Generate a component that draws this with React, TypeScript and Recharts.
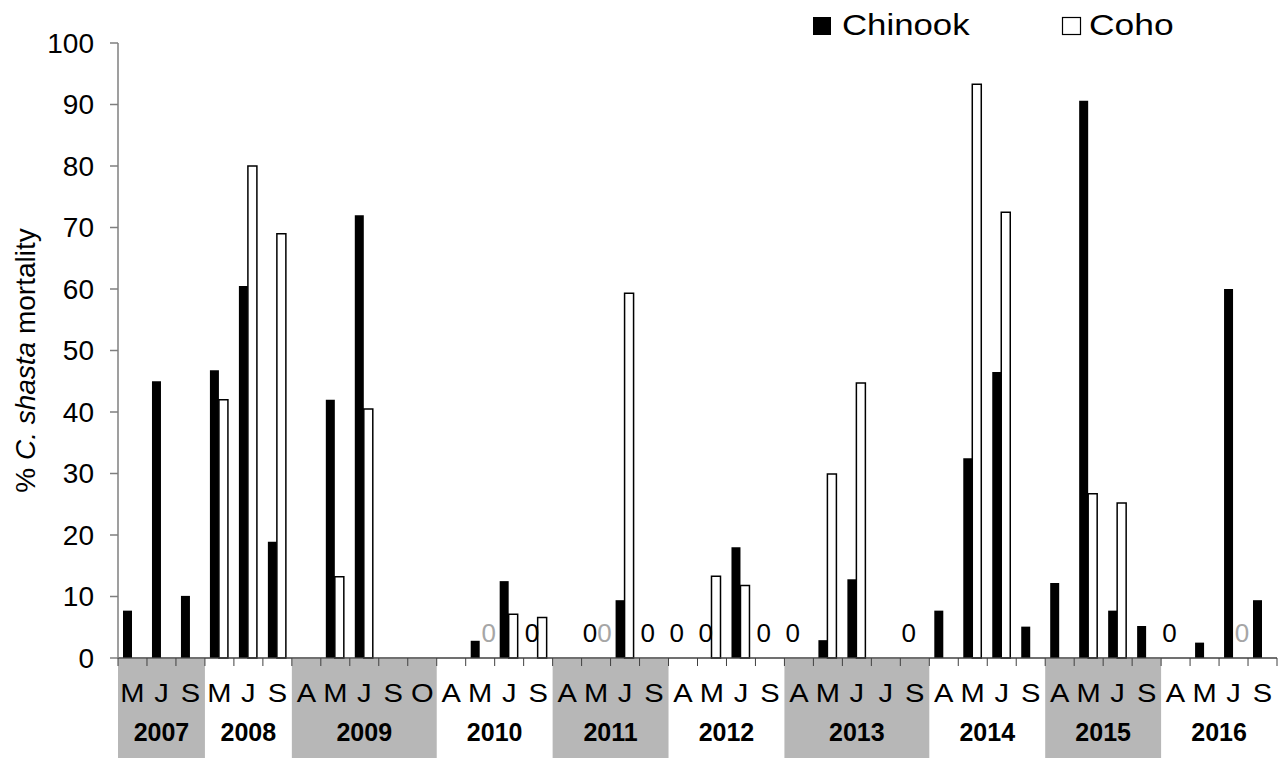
import { ComposedChart, Bar, Scatter, XAxis, YAxis } from 'recharts';

const months = ['M', 'J', 'S', 'M', 'J', 'S', 'A', 'M', 'J', 'S', 'O', 'A', 'M', 'J', 'S', 'A', 'M', 'J', 'S', 'A', 'M', 'J', 'S', 'A', 'M', 'J', 'J', 'S', 'A', 'M', 'J', 'S', 'A', 'M', 'J', 'S', 'A', 'M', 'J', 'S'];
const yearLabels = ['2007', '2008', '2009', '2010', '2011', '2012', '2013', '2014', '2015', '2016'];
const monthsPerYear = [3, 3, 5, 4, 4, 4, 5, 4, 4, 4];

// null = not sampled, 0 = sampled with zero mortality (drawn as a "0" label)
const chinook = [7.7, 45, 10.1, 46.8, 60.5, 18.9, null, 42, 72, null, null, null, 2.8, 12.5, 0, null, 0, 9.4, 0, 0, 0, 18, 0, 0, 2.9, 12.8, null, 0, 7.7, 32.5, 46.5, 5.1, 12.2, 90.6, 7.7, 5.2, 0, 2.5, 60, 9.4];
const coho = [null, null, null, 42, 80, 69, null, 13.2, 40.5, null, null, null, 0, 7.1, 6.6, null, 0, 59.3, null, null, 13.3, 11.8, null, null, 29.9, 44.7, null, null, null, 93.3, 72.5, null, null, 26.7, 25.2, null, null, null, 0, null];

const yTicks = [0, 10, 20, 30, 40, 50, 60, 70, 80, 90, 100];

const years: string[] = yearLabels.flatMap((y, i) => Array(monthsPerYear[i]).fill(y));

const data = months.map((m, i) => ({
  key: String(i),
  month: m,
  year: years[i],
  chinook: chinook[i],
  coho: coho[i],
  chinookZero: chinook[i] === 0 ? 0 : null,
  cohoZero: coho[i] === 0 ? 0 : null,
}));

const W = 1278;
const H = 758;
const MARGIN = { top: 43, right: 1, bottom: 0, left: 18 };
const Y_AXIS_W = 100;
const X_AXIS_H = 100;
const AXIS_Y = H - MARGIN.bottom - X_AXIS_H;
const BW = (W - MARGIN.left - Y_AXIS_W - MARGIN.right) / months.length;
const BAR = 9;
const FONT = '"Liberation Sans", Arial, sans-serif';

// eslint-disable-next-line @typescript-eslint/no-explicit-any
const MonthTick = (props: any) => {
  const { x, payload } = props;
  const i = Number(payload.value);
  const left = x - BW / 2;
  const yr = years[i];
  const first = i === 0 || years[i - 1] !== yr;
  const yi = yearLabels.indexOf(yr);
  const count = monthsPerYear[yi];
  return (
    <g>
      {first && yi % 2 === 0 && (
        <rect x={left} y={AXIS_Y + 1} width={count * BW} height={H - AXIS_Y - 1} fill="#b7b7b7" />
      )}
      {first && (
        <text x={left + (count * BW) / 2} y={732} textAnchor="middle" dominantBaseline="central"
          fontFamily={FONT} fontWeight="bold" fontSize={25} fill="#000">
          {yr}
        </text>
      )}
      <line x1={left} x2={left} y1={AXIS_Y} y2={AXIS_Y + 8} stroke="#404040" strokeWidth={1} />
      {i === months.length - 1 && (
        <line x1={left + BW} x2={left + BW} y1={AXIS_Y} y2={AXIS_Y + 8} stroke="#404040" strokeWidth={1} />
      )}
      <text x={x} y={693} textAnchor="middle" dominantBaseline="central" fontFamily={FONT} fontSize={26}
        fill="#000" transform={`translate(${x},0) scale(1.12,1) translate(${-x},0)`}>
        {months[i]}
      </text>
    </g>
  );
};

// zero value marker drawn as "0" above the axis, at the slot of its bar
// eslint-disable-next-line @typescript-eslint/no-explicit-any
const zeroShape = (color: string, dx: number) => (props: any) => {
  const { cx, cy } = props;
  if (cx == null || cy == null || Number.isNaN(cx) || Number.isNaN(cy)) return <g />;
  return (
    <text x={cx + dx} y={cy - 25} textAnchor="middle" dominantBaseline="central"
      fontFamily={FONT} fontSize={26} fill={color}>
      0
    </text>
  );
};

// eslint-disable-next-line @typescript-eslint/no-explicit-any
const YLabel = (props: any) => {
  const { viewBox } = props;
  const cy = viewBox ? viewBox.y + viewBox.height / 2 : 350;
  return (
    <text x={25} y={cy + 10} transform={`rotate(-90, 25, ${cy + 10})`} textAnchor="middle" dominantBaseline="central"
      fontFamily={FONT} fontSize={28} fill="#000">
      % <tspan fontStyle="italic">C. shasta</tspan> mortality
    </text>
  );
};

const LegendOverlay = () => (
  <svg width={W} height={50} style={{ position: 'absolute', left: 0, top: 0 }}>
    <rect x={813} y={17} width={18} height={18} fill="#000" />
    <text x={842} y={35} fontFamily={FONT} fontSize={30} fill="#000" transform="translate(842,0) scale(1.16,1) translate(-842,0)">
      Chinook
    </text>
    <rect x={1062.5} y={17.5} width={18} height={17} fill="#fff" stroke="#000" strokeWidth={1.2} />
    <text x={1089} y={35} fontFamily={FONT} fontSize={30} fill="#000" transform="translate(1089,0) scale(1.18,1) translate(-1089,0)">
      Coho
    </text>
  </svg>
);

export default function App() {
  return (
    <div style={{ position: 'absolute', left: 0, top: 0, width: W, height: H, background: '#fff' }}>
      <ComposedChart width={W} height={H} data={data} margin={MARGIN} barGap={0} barCategoryGap={0}>
        <XAxis
          dataKey="key"
          interval={0}
          height={X_AXIS_H}
          tick={<MonthTick />}
          tickLine={false}
          axisLine={{ stroke: '#404040', strokeWidth: 1.5 }}
        />
        <YAxis
          domain={[0, 100]}
          ticks={yTicks}
          width={Y_AXIS_W}
          tickSize={8}
          tickMargin={16}
          interval={0}
          axisLine={{ stroke: '#7f7f7f', strokeWidth: 1.5 }}
          tickLine={{ stroke: '#7f7f7f', strokeWidth: 1.5 }}
          tick={{ fill: '#000', fontSize: 28, fontFamily: FONT }}
          label={<YLabel />}
        />
        <Bar dataKey="chinook" fill="#000" barSize={BAR} isAnimationActive={false} />
        <Bar dataKey="coho" fill="#fff" stroke="#000" strokeWidth={1.5} barSize={BAR} isAnimationActive={false} />
        <Scatter dataKey="chinookZero" shape={zeroShape('#000', -BAR / 2 - 1.7)} isAnimationActive={false} />
        <Scatter dataKey="cohoZero" shape={zeroShape('#a6a6a6', BAR / 2 + 4)} isAnimationActive={false} />
      </ComposedChart>
      <LegendOverlay />
    </div>
  );
}
